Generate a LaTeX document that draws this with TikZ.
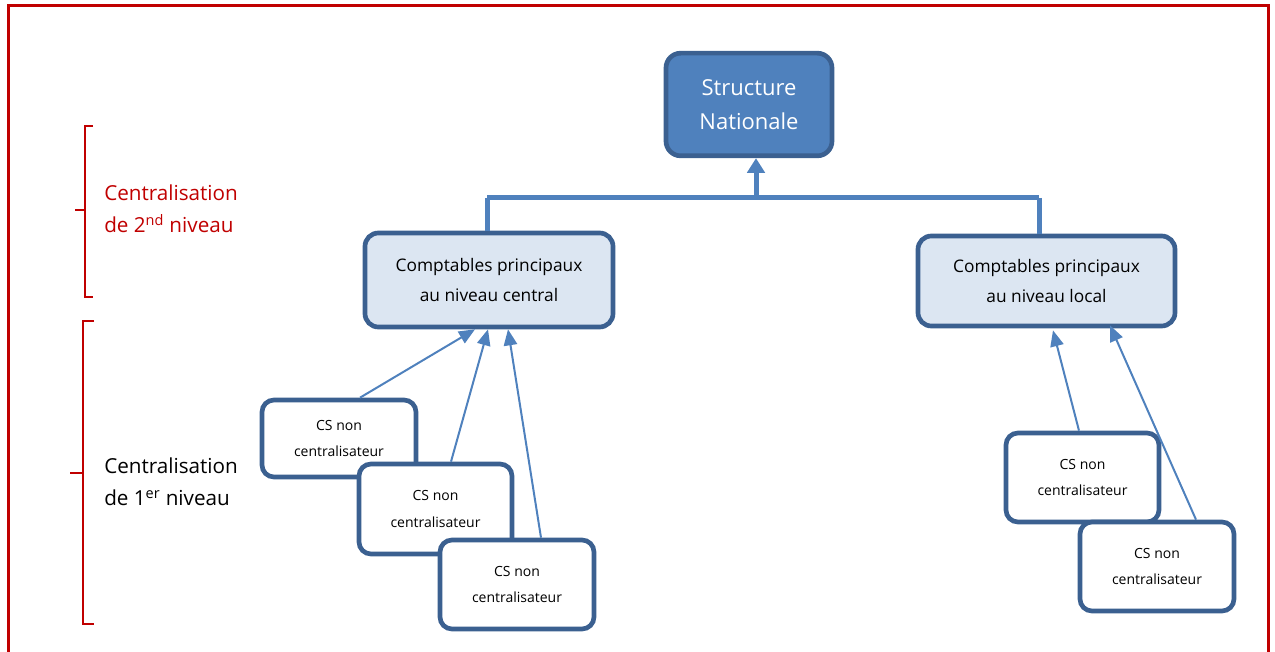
\documentclass[tikz,border=0pt]{standalone}
\usepackage{fontspec}
\setmainfont{Open Sans}
\usetikzlibrary{arrows.meta,calc}
\definecolor{frame}{HTML}{C00000}
\definecolor{bord}{HTML}{3B6090}
\definecolor{blu}{HTML}{4F81BD}
\definecolor{lblu}{HTML}{DCE6F2}
\tikzset{
  topbox/.style={draw=bord,line width=3.5pt,rounded corners=11pt,fill=blu,text=white,align=center,
    font=\fontsize{16.5}{26}\selectfont,inner sep=0pt},
  midbox/.style={draw=bord,line width=3.5pt,rounded corners=10pt,fill=lblu,align=center,
    font=\fontsize{13}{22}\selectfont,inner sep=0pt},
  csbox/.style={draw=bord,line width=3.5pt,rounded corners=9pt,fill=white,align=center,
    font=\fontsize{10.5}{20}\selectfont,inner sep=0pt},
  thinarr/.style={draw=blu,line width=1.5pt,-{Triangle[length=12pt,width=10pt]}},
  thickarr/.style={draw=blu,line width=3.75pt,-{Triangle[length=11pt,width=13pt]}},
  bar/.style={draw=blu,line width=3.75pt},
  brace/.style={draw=frame,line width=1.5pt},
  lbl/.style={align=left,anchor=west,font=\fontsize{15.5}{24}\selectfont,inner sep=0pt}
}
\begin{document}
\begin{tikzpicture}[x=0.75pt,y=-0.75pt]
\useasboundingbox (0,0) rectangle (1275,652);
\clip (0,0) rectangle (1275,652);
\draw[frame,line width=2.25pt] (8,6) rectangle (1268,680);

% brackets
\draw[brace] (93,126) -- (85,126) -- (85,297) -- (93,297);
\draw[brace] (85,210) -- (75,210);
\draw[brace] (94,321) -- (83,321) -- (83,624) -- (94,624);
\draw[brace] (83,473) -- (70,473);
\node[lbl,text=frame] (l2) at (104,209) {Centralisation\\de 2\textsuperscript{nd} niveau};
\node[lbl] (l1) at (104,482) {Centralisation\\de 1\textsuperscript{er} niveau};

% connectors top
\coordinate (j) at (756,198);
\coordinate (jl) at (487,198);
\coordinate (jr) at (1039,198);

\node[topbox,minimum width=124.5pt,minimum height=77pt] (sn) at (749,104.5) {Structure\\Nationale};
\node[midbox,minimum width=186pt,minimum height=70.5pt] (cl) at (489,280) {Comptables principaux\\au niveau central};
\node[midbox,minimum width=192.75pt,minimum height=67.5pt] (cr) at (1046.5,281) {Comptables principaux\\au niveau local};

\draw[bar] (jl) -- (jr);
\draw[bar] (jl) -- (jl |- cl.north);
\draw[bar] (jr) -- (jr |- cr.north);
\draw[thickarr] (j) -- (j |- sn.south);

% CS boxes
\node[csbox,minimum width=115.5pt,minimum height=57.75pt] (c1) at (339,438.5) {CS non\\centralisateur};
\node[csbox,minimum width=114.75pt,minimum height=67.5pt] (c2) at (435.5,509) {CS non\\centralisateur};
\node[csbox,minimum width=115.5pt,minimum height=66.75pt] (c3) at (517,584.5) {CS non\\centralisateur};
\node[csbox,minimum width=114.75pt,minimum height=66.75pt] (c4) at (1082.5,477.5) {CS non\\centralisateur};
\node[csbox,minimum width=115.5pt,minimum height=66.75pt] (c5) at (1157,566.5) {CS non\\centralisateur};

\draw[thinarr] ([shift={(21,0)}]c1.north) -- ([shift={(-14,0)}]cl.south);
\draw[thinarr] ([shift={(15.5,0)}]c2.north) -- ([shift={(-1,0)}]cl.south);
\draw[thinarr] ([shift={(24,0)}]c3.north) -- ([shift={(19,0)}]cl.south);
\draw[thinarr] ([shift={(-3.5,0)}]c4.north) -- ([shift={(6.5,2)}]cr.south);
\draw[thinarr] ([shift={(39,0)}]c5.north) -- ([shift={(63.5,-3)}]cr.south);
\end{tikzpicture}
\end{document}
